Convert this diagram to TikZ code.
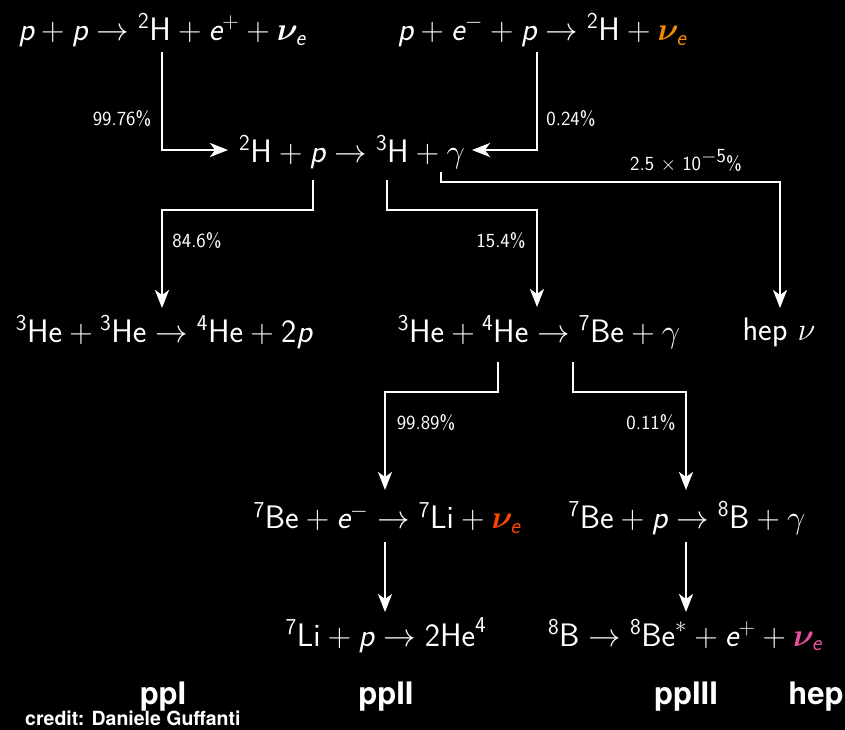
\RequirePackage{fix-cm}
\documentclass[tikz,border=0pt]{standalone}
\usepackage{amsmath,bm}
\usepackage{fontspec}
\newfontfamily\labfont{TeX Gyre Heros}
\usetikzlibrary{arrows.meta}
\definecolor{nuorange}{RGB}{240,140,0}
\definecolor{nured}{RGB}{255,70,0}
\definecolor{nupink}{RGB}{235,80,160}
\newcommand\sit[1]{\textsf{\slshape #1}}
\newcommand\su[1]{{}^{\mathsf{#1}}}
\newcommand\tsf[1]{\mathsf{#1}}
\newcommand\nue{\bm{\nu}_{\sit{e}}}
\tikzset{
  eq/.style={text=white,font=\fontsize{32.5}{36}\selectfont\sffamily,inner sep=3pt},
  pct/.style={text=white,font=\fontsize{20}{23}\selectfont\sffamily,inner sep=1pt},
  lab/.style={text=white,font=\fontsize{31}{35}\selectfont\labfont\bfseries,inner sep=0pt},
  arr/.style={draw=white,line width=2.6pt,-{Stealth[length=18pt,width=14pt,inset=5pt]}},
}
\begin{document}
\begin{tikzpicture}[x=1pt,y=-1pt]
\fill[black] (0,0) rectangle (845,730);
\useasboundingbox (0,0) rectangle (845,730);
% equations
\node[eq] (eq1) at (162,30) {$\sit{p}+\sit{p}\to\su{2}\tsf{H}+\sit{e}^{+}+\nue$};
\node[eq] (eq2) at (542,30) {$\sit{p}+\sit{e}^{-}+\sit{p}\to\su{2}\tsf{H}+\textcolor{nuorange}{\nue}$};
\node[eq] (eq3) at (352,152) {$\su{2}\tsf{H}+\sit{p}\to\su{3}\tsf{H}+\gamma$};
\node[eq] (eq4) at (164,332) {$\su{3}\tsf{He}+\su{3}\tsf{He}\to\su{4}\tsf{He}+\tsf{2}\sit{p}$};
\node[eq] (eq5) at (539,332) {$\su{3}\tsf{He}+\su{4}\tsf{He}\to\su{7}\tsf{Be}+\gamma$};
\node[eq] (eq6) at (779,332) {$\tsf{hep}\ \nu$};
\node[eq] (eq7) at (387,518) {$\su{7}\tsf{Be}+\sit{e}^{-}\to\su{7}\tsf{Li}+\textcolor{nured}{\nue}$};
\node[eq] (eq8) at (687,518) {$\su{7}\tsf{Be}+\sit{p}\to\su{8}\tsf{B}+\gamma$};
\node[eq] (eq9) at (386,635) {$\su{7}\tsf{Li}+\sit{p}\to\tsf{2He}^{\tsf{4}}$};
\node[eq] (eq10) at (685,635) {$\su{8}\tsf{B}\to\su{8}\tsf{Be}^{*}+\sit{e}^{+}+\textcolor{nupink}{\nue}$};
% percentages
\node[pct] (p1) at (122,119) {99.76\%};
\node[pct] (p2) at (571,119) {0.24\%};
\node[pct] (p3) at (197,241) {84.6\%};
\node[pct] (p4) at (501,241) {15.4\%};
\node[pct] (p5) at (686,161) {2.5 $\times$ 10\raisebox{0.4em}{$-$5}\%};
\node[pct] (p6) at (426,423) {99.89\%};
\node[pct] (p7) at (651,423) {0.11\%};
% chain labels
\node[lab] (l1) at (163,697) {ppI};
\node[lab] (l2) at (386,697) {ppII};
\node[lab] (l3) at (686,697) {ppIII};
\node[lab] (l4) at (816,697) {hep};
\node[text=white,font=\fontsize{19.5}{21}\selectfont\labfont\bfseries,anchor=west,inner sep=0pt] (cr) at (25,718) {credit: Daniele Guffanti};
% connector coordinates
\coordinate (s1) at (162,52);  \coordinate (t1) at (228,150);
\coordinate (s2) at (537,52);  \coordinate (t2) at (472,150);
\coordinate (s3) at (313,180); \coordinate (t3) at (162,308);
\coordinate (s4) at (387,180); \coordinate (t4) at (537,307);
\coordinate (s5) at (441,172); \coordinate (t5) at (780,308);
\coordinate (s6) at (498,362); \coordinate (t6) at (385,490);
\coordinate (s7) at (573,362); \coordinate (t7) at (686,490);
\coordinate (s8) at (385,542); \coordinate (t8) at (385,612);
\coordinate (s9) at (686,542); \coordinate (t9) at (686,612);
\draw[arr] (s1) |- (t1);
\draw[arr] (s2) |- (t2);
\draw[arr] (s3) -- (313,210) -| (t3);
\draw[arr] (s4) -- (387,210) -| (t4);
\draw[arr] (s5) -- (441,182) -| (t5);
\draw[arr] (s6) -- (498,392) -| (t6);
\draw[arr] (s7) -- (573,392) -| (t7);
\draw[arr] (s8) -- (t8);
\draw[arr] (s9) -- (t9);
\end{tikzpicture}
\end{document}
